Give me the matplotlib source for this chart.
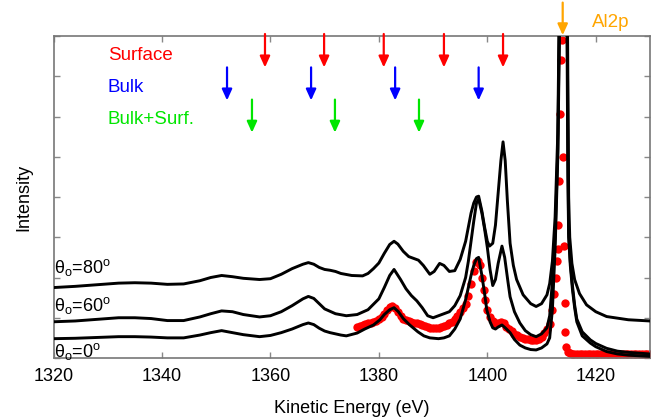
import matplotlib
matplotlib.use("Agg")
from matplotlib import pyplot as plt

plt.rcParams["font.family"] = ["Liberation Sans", "DejaVu Sans"]
plt.rcParams["mathtext.fontset"] = "custom"
plt.rcParams["mathtext.rm"] = "Liberation Sans"

# DATA ##########################################
# theta = 0 deg fit
e_0 = [1320, 1324, 1328, 1332, 1335, 1338, 1341, 1344, 1347, 1349, 1351, 1353, 1355, 1358, 1360,
       1362, 1364, 1366, 1367, 1368, 1369, 1370, 1371, 1373, 1374, 1376, 1377.4, 1379, 1380.2, 1381,
       1382, 1382.8, 1383.6, 1384.5, 1385.7, 1387.2, 1388.3, 1389.4, 1391, 1392, 1393, 1394, 1395,
       1396, 1396.5, 1397, 1397.5, 1398, 1398.4, 1399, 1399.5, 1399.9, 1400.5, 1401, 1401.5, 1402,
       1402.7, 1403.3, 1404.2, 1405, 1406, 1407, 1408, 1409, 1410, 1411, 1411.5, 1412, 1412.5, 1413,
       1413.3, 1413.7, 1414.0, 1414.3, 1414.7, 1414.85, 1415.0, 1415.3, 1415.7, 1416.1, 1416.5,
       1417.5, 1419, 1420, 1422, 1424, 1426, 1430]
i_0 = [0.48, 0.49, 0.51, 0.53, 0.53, 0.52, 0.50, 0.50, 0.57, 0.63, 0.68, 0.63, 0.58, 0.53, 0.56,
       0.63, 0.72, 0.83, 0.87, 0.83, 0.74, 0.67, 0.63, 0.57, 0.55, 0.62, 0.72, 0.82, 0.95, 1.08,
       1.20, 1.25, 1.15, 0.98, 0.82, 0.65, 0.55, 0.50, 0.48, 0.50, 0.55, 0.72, 0.97,
       1.45, 1.75, 2.05, 2.30, 2.47, 2.50, 2.05, 1.60, 1.20, 0.90, 0.75, 0.72, 0.77,
       0.82, 0.75, 0.63, 0.46, 0.32, 0.25, 0.21, 0.20, 0.25, 0.35, 0.50, 1.20, 2.70, 5.00,
       8.00, 13.0, 16.0, 13.0, 8.00, 4.50, 3.00, 2.30, 1.70, 1.25, 0.90,
       0.55, 0.37, 0.28, 0.16, 0.10, 0.07, 0.04]

# theta = 60 deg fit
e_60 = [1320, 1324, 1328, 1332, 1335, 1338, 1341, 1344, 1347, 1349, 1351, 1353, 1355, 1358, 1360,
        1362, 1364, 1366, 1367, 1368, 1369, 1370, 1372, 1374, 1376, 1378, 1380, 1381, 1382, 1382.8,
        1384, 1385, 1386, 1387, 1388, 1389, 1390, 1391, 1392, 1393, 1394, 1395, 1396, 1396.5, 1397,
        1397.5, 1398, 1398.4, 1399, 1399.5, 1400, 1400.5, 1401, 1401.5, 1402, 1402.7, 1403.2, 1403.8,
        1404.2, 1405, 1406, 1407, 1408, 1409, 1410, 1411, 1411.5, 1412, 1412.5, 1413, 1413.25, 1413.7,
        1414.0, 1414.3, 1414.75, 1414.9, 1415.0, 1415.3, 1415.7, 1416.1, 1416.5, 1417.5, 1419, 1420,
        1422, 1424, 1426, 1430]
i_60 = [0.90, 0.92, 0.96, 1.00, 1.00, 0.98, 0.93, 0.93, 1.02, 1.10, 1.17, 1.15, 1.08, 1.02, 1.05,
        1.15, 1.30, 1.47, 1.53, 1.48, 1.35, 1.22, 1.10, 1.05, 1.08, 1.20, 1.47, 1.75, 2.05, 2.20,
        1.95, 1.72, 1.55, 1.42, 1.25, 1.05, 1.00, 1.05, 1.10, 1.15, 1.30, 1.55, 2.00, 2.40, 2.90,
        3.40, 3.85, 3.95, 3.60, 3.20, 2.75, 2.20, 1.80, 1.95, 2.35, 2.78, 2.50, 1.90,
        1.52, 1.15, 0.87, 0.68, 0.58, 0.53, 0.60, 0.75, 1.05, 1.90, 3.00, 5.20, 8.00, 13.0,
        16.0, 13.0, 8.00, 4.60, 3.10, 2.40, 1.80, 1.32, 0.97, 0.65, 0.45, 0.36,
        0.24, 0.17, 0.14, 0.10]

# theta = 80 deg fit
e_80 = [1320, 1324, 1328, 1332, 1335, 1338, 1341, 1344, 1347, 1349, 1351, 1353, 1355, 1358, 1360,
        1362, 1364, 1366, 1367, 1368, 1369, 1370, 1371, 1372, 1373, 1375, 1377, 1378, 1379, 1380,
        1381, 1382, 1382.8, 1383.5, 1384.5, 1385.5, 1386.5, 1387.3, 1388.2, 1389.4, 1390.2, 1391.2,
        1392, 1393, 1394, 1395, 1396, 1396.5, 1397, 1397.5, 1398, 1398.4, 1399, 1399.5, 1400, 1400.4,
        1401, 1401.5, 1402, 1402.5, 1402.9, 1403.3, 1403.7, 1404.2, 1404.8, 1405.4, 1406.6, 1408,
        1409, 1410, 1411, 1411.5, 1412, 1412.5, 1413, 1413.2, 1413.7, 1414.0, 1414.3, 1414.8, 1415.0,
        1415.2, 1415.6, 1416.1, 1417, 1418.3, 1420, 1422, 1426, 1430]
i_80 = [1.75, 1.78, 1.82, 1.86, 1.87, 1.86, 1.83, 1.84, 1.92, 2.00, 2.05, 2.02, 1.98, 1.95, 1.97,
        2.08, 2.22, 2.33, 2.37, 2.33, 2.25, 2.20, 2.18, 2.15, 2.10, 2.05, 2.04, 2.10, 2.22, 2.36,
        2.60, 2.82, 2.90, 2.83, 2.65, 2.52, 2.47, 2.43, 2.30, 2.08, 2.15, 2.35,
        2.30, 2.15, 2.17, 2.45, 2.90, 3.25, 3.60, 3.85, 4.00, 4.02, 3.65, 3.25, 2.90, 2.78,
        2.85, 3.30, 4.10, 4.90, 5.37, 4.90, 3.90, 2.85, 2.30, 1.95, 1.57, 1.35,
        1.28, 1.35, 1.57, 1.85, 2.40, 3.50, 5.60, 8.00, 13.0, 16.0, 13.0, 8.00, 4.00,
        3.00, 2.35, 1.95, 1.60, 1.32, 1.15, 1.03, 0.95, 0.92]

# measured spectrum
e_exp = [1376, 1376.5, 1377, 1377.5, 1378, 1378.5, 1379, 1379.5, 1380, 1380.5, 1381, 1381.5, 1382,
         1382.5, 1383, 1383.5, 1384, 1384.5, 1385, 1385.5, 1386, 1386.5, 1387, 1387.5, 1388, 1388.5,
         1389, 1389.5, 1390, 1390.5, 1391, 1391.5, 1392, 1392.5, 1393, 1393.5, 1394, 1394.5, 1395,
         1395.5, 1396, 1396.5, 1397, 1397.5, 1398, 1398.3, 1398.6, 1399, 1399.3, 1399.6, 1400,
         1400.5, 1401, 1401.5, 1402, 1402.5, 1403, 1403.5, 1404, 1404.5, 1405, 1405.5, 1406, 1406.5,
         1407, 1407.5, 1408, 1408.5, 1409, 1409.5, 1410, 1410.5, 1411, 1411.5, 1412, 1412.3, 1412.6,
         1412.9, 1413.0, 1413.1, 1413.3, 1413.45, 1413.6, 1413.75, 1414.0, 1414.2, 1414.3, 1414.4,
         1414.55, 1414.8, 1415.2, 1415.6, 1416, 1416.5, 1417, 1417.5, 1418, 1418.5, 1419, 1419.5,
         1420, 1420.5, 1421, 1421.5, 1422, 1422.5, 1423, 1423.5, 1424, 1424.5, 1425, 1425.5, 1426,
         1426.5, 1427, 1427.5, 1428, 1428.5, 1429, 1429.5, 1430]
i_exp = [0.78, 0.80, 0.82, 0.84, 0.86, 0.88, 0.90, 0.92, 0.96, 1.02, 1.10, 1.20, 1.27,
         1.30, 1.25, 1.15, 1.05, 0.98, 0.95, 0.93, 0.90, 0.88, 0.87, 0.85, 0.82, 0.80,
         0.77, 0.75, 0.74, 0.74, 0.75, 0.77, 0.79, 0.82, 0.86, 0.90, 0.97, 1.05, 1.15,
         1.25, 1.35, 1.55, 1.85, 2.15, 2.38, 2.42, 2.30, 2.00, 1.70, 1.45, 1.20,
         1.02, 0.92, 0.88, 0.88, 0.90, 0.86, 0.78, 0.72, 0.66, 0.60, 0.56, 0.53, 0.50,
         0.48, 0.46, 0.45, 0.45, 0.45, 0.47, 0.52, 0.62, 0.72, 0.85, 1.20, 1.60, 2.00,
         2.40, 2.70, 3.30, 4.40, 6.05, 7.40, 7.90, 5.00, 2.78, 1.37, 0.65,
         0.28, 0.15, 0.12, 0.11, 0.11, 0.10, 0.10, 0.10, 0.10, 0.10, 0.10, 0.10,
         0.10, 0.10, 0.10, 0.10, 0.10, 0.10, 0.10, 0.10, 0.10, 0.10, 0.10, 0.10, 0.10,
         0.10, 0.10, 0.10, 0.10, 0.10, 0.10, 0.10, 0.10]

# peak markers (eV)
surface_peaks = [1359.0, 1369.9, 1380.9, 1392.0, 1402.9]
bulk_peaks = [1352.0, 1367.5, 1383.0, 1398.4]
mixed_peaks = [1356.6, 1371.9, 1387.4]
al2p_peak = 1413.9

# PLOT ##########################################
fig = plt.figure(figsize=(6.57, 4.18), dpi=100)
ax = fig.add_axes([53.5 / 657, 60 / 418, 596.5 / 657, 322 / 418])

ax.plot(e_exp, i_exp, "o", color="#ff0000", ms=6, mec="none", zorder=2)
for e, i in [(e_0, i_0), (e_60, i_60), (e_80, i_80)]:
    ax.plot(e, i, color="black", lw=2.1, zorder=3)

ax.set_xlim(1320, 1430)
ax.set_ylim(0, 8)
ax.set_xticks(range(1320, 1431, 20))
ax.set_yticks(range(0, 9))
ax.set_yticklabels([])
ax.tick_params(direction="in", length=4, width=1, color="#888888", top=True, right=True,
               labelsize=13, pad=7)
for sp in ax.spines.values():
    sp.set_color("#777777")
    sp.set_linewidth(1.2)

ax.set_xlabel("Kinetic Energy (eV)", fontsize=13, labelpad=11)
ax.set_ylabel("Intensity", fontsize=13, labelpad=8)


def draw_arrows(xs, y0, y1, color):
    for x in xs:
        ax.annotate("", xy=(x, y1), xytext=(x, y0), annotation_clip=False,
                    arrowprops=dict(arrowstyle="-|>,head_length=0.55,head_width=0.25",
                                    color=color, lw=1.6, shrinkA=0, shrinkB=0,
                                    mutation_scale=12), zorder=4)


draw_arrows(surface_peaks, 8.05, 7.22, "#ff0000")
draw_arrows(bulk_peaks, 7.22, 6.40, "#0000ff")
draw_arrows(mixed_peaks, 6.42, 5.60, "#00e600")
draw_arrows([al2p_peak], 8.83, 8.02, "#ffa500")

ax.text(1330.0, 7.52, "Surface", color="#ff0000", fontsize=13.5, va="center")
ax.text(1330.0, 6.71, "Bulk", color="#0000ff", fontsize=13.5, va="center")
ax.text(1330.0, 5.93, "Bulk+Surf.", color="#00e600", fontsize=13.5, va="center")
ax.text(1419.3, 8.33, "Al2p", color="#ffa500", fontsize=13.5, va="center", clip_on=False)

for y, ang in [(2.12, "80"), (1.18, "60"), (0.03, "0")]:
    ax.text(1320.15, y, "θ$_{\\mathrm{o}}$=" + ang + "$^{\\mathrm{o}}$", fontsize=13,
            va="baseline", zorder=5)

plt.savefig("out.png", dpi=100)
